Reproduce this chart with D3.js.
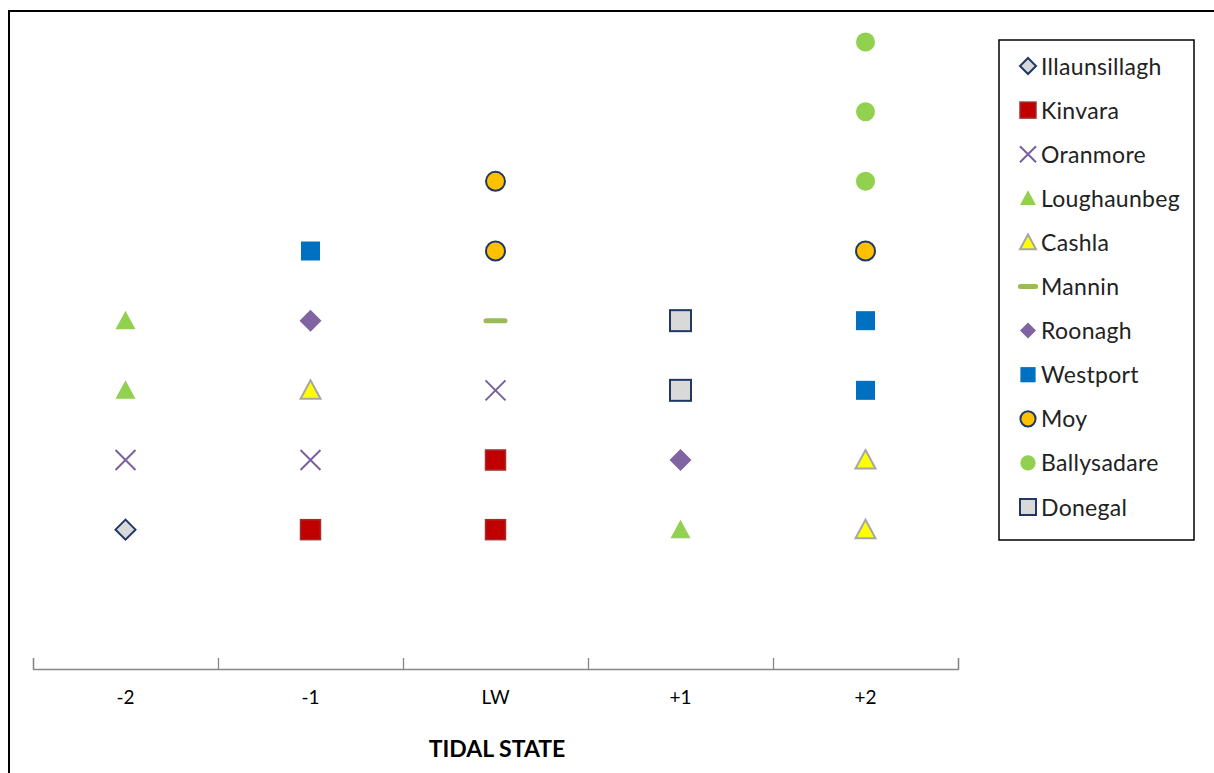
<!DOCTYPE html>
<html><head><meta charset="utf-8">
<script src="https://cdn.jsdelivr.net/npm/d3@7"></script>
<style>body{margin:0;background:#fff}svg{display:block}</style>
</head><body><svg id="c" width="1214" height="773"></svg>
<script>
const categories = ["-2","-1","LW","+1","+2"];
const seriesNames = ["Illaunsillagh","Kinvara","Oranmore","Loughaunbeg","Cashla","Mannin","Roonagh","Westport","Moy","Ballysadare","Donegal"];
// points per series: [tidal state, rank value]
const illaunsillagh = [["-2",2]];
const kinvara = [["-1",2],["LW",2],["LW",3]];
const oranmore = [["-2",3],["-1",3],["LW",4]];
const loughaunbeg = [["-2",4],["-2",5],["+1",2]];
const cashla = [["-1",4],["+2",2],["+2",3]];
const mannin = [["LW",5]];
const roonagh = [["-1",5],["+1",3]];
const westport = [["-1",6],["+2",4],["+2",5]];
const moy = [["LW",6],["LW",7],["+2",6]];
const ballysadare = [["+2",7],["+2",8],["+2",9]];
const donegal = [["+1",4],["+1",5]];
const xTitle = "TIDAL STATE";

const seriesData = [illaunsillagh,kinvara,oranmore,loughaunbeg,cashla,mannin,roonagh,westport,moy,ballysadare,donegal];
const styles = [
  {shape:"diamond", fill:"#d9d9d9", stroke:"#1f3864", sw:2, size:20},
  {shape:"square", fill:"#c00000", stroke:"#a03030", sw:1.5, size:20},
  {shape:"x", fill:"none", stroke:"#7a5f9e", sw:2, size:20},
  {shape:"triangle", fill:"#92d050", stroke:"none", sw:0, size:20},
  {shape:"triangle", fill:"#ffff00", stroke:"#a6a6a6", sw:2, size:20},
  {shape:"dash", fill:"none", stroke:"#9bbb59", sw:5, size:20},
  {shape:"diamond", fill:"#8064a2", stroke:"none", sw:0, size:22},
  {shape:"square", fill:"#0070c0", stroke:"none", sw:0, size:19},
  {shape:"circle", fill:"#ffc000", stroke:"#1f3864", sw:2, size:19},
  {shape:"circle", fill:"#92d050", stroke:"none", sw:0, size:19},
  {shape:"square", fill:"#d9d9d9", stroke:"#1f3864", sw:2, size:21}
];

const svg = d3.select("#c");
svg.append("rect").attr("x",9).attr("y",11).attr("width",1300).attr("height",900)
  .attr("fill","none").attr("stroke","#000").attr("stroke-width",2);

const x = d3.scaleLinear().domain([0,categories.length]).range([33,958]);
const y = d3.scaleLinear().domain([0,9]).range([669,42]);

const axis = d3.axisBottom(x).tickValues(d3.range(0,categories.length+1))
  .tickSize(-11).tickFormat("");
const ag = svg.append("g").attr("transform","translate(0,669)").call(axis);
ag.select(".domain").attr("stroke","#868686").attr("stroke-width",1.3);
ag.selectAll(".tick line").attr("stroke","#868686").attr("stroke-width",1.3);

svg.append("g").selectAll("text").data(categories).join("text")
  .attr("x",(d,i)=>x(i+0.5)).attr("y",704).attr("text-anchor","middle")
  .attr("font-family","Lato, 'Open Sans', sans-serif").attr("font-size",19).attr("fill","#000")
  .text(d=>d);
svg.append("text").attr("x",497).attr("y",757).attr("text-anchor","middle")
  .attr("font-family","Lato, 'Open Sans', sans-serif").attr("font-size",23).attr("font-weight","bold")
  .text(xTitle);

function drawMarker(g, st, cx, cy){
  const s = st.size, h = s/2;
  let el;
  if(st.shape==="square"){
    el = g.append("rect").attr("x",cx-h).attr("y",cy-h).attr("width",s).attr("height",s);
  } else if(st.shape==="circle"){
    el = g.append("circle").attr("cx",cx).attr("cy",cy).attr("r",h);
  } else if(st.shape==="diamond"){
    el = g.append("path").attr("d",`M${cx},${cy-h}L${cx+h},${cy}L${cx},${cy+h}L${cx-h},${cy}Z`);
  } else if(st.shape==="triangle"){
    el = g.append("path").attr("d",`M${cx},${cy-h}L${cx+h},${cy+h*0.85}L${cx-h},${cy+h*0.85}Z`);
  } else if(st.shape==="x"){
    el = g.append("path").attr("d",`M${cx-h},${cy-h}L${cx+h},${cy+h}M${cx+h},${cy-h}L${cx-h},${cy+h}`);
  } else if(st.shape==="dash"){
    el = g.append("path").attr("d",`M${cx-h*0.95},${cy}L${cx+h*0.95},${cy}`).attr("stroke-linecap","round");
  }
  el.attr("fill",st.fill).attr("stroke",st.stroke).attr("stroke-width",st.sw);
}

const pg = svg.append("g");
seriesData.forEach((pts,si)=>{
  pts.forEach(p=>{
    const ci = categories.indexOf(p[0]);
    drawMarker(pg, styles[si], x(ci+0.5), y(p[1]));
  });
});

// legend
const lg = svg.append("g");
lg.append("rect").attr("x",999).attr("y",40).attr("width",195).attr("height",500)
  .attr("fill","#fff").attr("stroke","#000").attr("stroke-width",1.5);
seriesNames.forEach((n,i)=>{
  const cy = 66 + i*44.1;
  const st = Object.assign({}, styles[i], {size: Math.min(styles[i].size*0.8, 16)});
  drawMarker(lg, st, 1028, cy);
  lg.append("text").attr("x",1041).attr("y",cy+8.5)
    .attr("font-family","Lato, 'Open Sans', sans-serif").attr("font-size",23)
    .attr("letter-spacing",0.3).attr("fill","#222")
    .text(n);
});
</script></body></html>
